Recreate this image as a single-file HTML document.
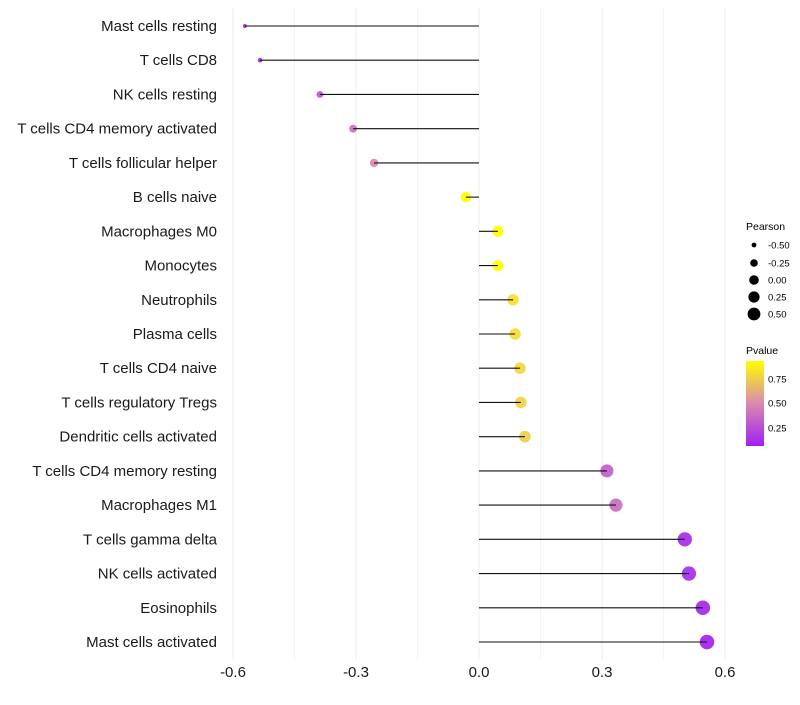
<!DOCTYPE html>
<html><head><meta charset="utf-8"><style>
body{margin:0;background:#fff;font-family:"Liberation Sans",sans-serif}
</style></head><body>
<svg id="chart" width="800" height="700" xmlns="http://www.w3.org/2000/svg" font-family="Liberation Sans, sans-serif">
<defs><linearGradient id="pg" x1="0" y1="1" x2="0" y2="0">
<stop offset="0" stop-color="#a020f0"/><stop offset="0.5" stop-color="#d98ab0"/><stop offset="1" stop-color="#ffff00"/></linearGradient></defs>
<g id="grid"></g>
<g id="dots"></g>
<g id="marks"></g>
<g id="ylab"></g>
<g id="xlab"></g>
<g font-size="9.5">
<text x="746" y="230" font-size="10.5">Pearson</text>
<circle cx="754" cy="245" r="2.4"/><text x="768" y="248.5">-0.50</text>
<circle cx="754" cy="263" r="3.8"/><text x="768" y="266.5">-0.25</text>
<circle cx="754" cy="280" r="4.8"/><text x="768" y="283.5">0.00</text>
<circle cx="754" cy="297" r="5.6"/><text x="768" y="300.5">0.25</text>
<circle cx="754" cy="314" r="6.4"/><text x="768" y="317.5">0.50</text>
</g>
<g font-size="9.5">
<text x="746" y="354" font-size="10.5">Pvalue</text>
<rect x="746" y="361" width="18" height="85" fill="url(#pg)"/>
<text x="768" y="382.5">0.75</text><text x="768" y="406.5">0.50</text><text x="768" y="431.5">0.25</text>
</g>
</svg>
<script>
const cells=["Mast cells resting","T cells CD8","NK cells resting","T cells CD4 memory activated","T cells follicular helper","B cells naive","Macrophages M0","Monocytes","Neutrophils","Plasma cells","T cells CD4 naive","T cells regulatory  Tregs ","Dendritic cells activated","T cells CD4 memory resting","Macrophages M1","T cells gamma delta","NK cells activated","Eosinophils","Mast cells activated"];
const pearson=[-0.571,-0.534,-0.388,-0.307,-0.256,-0.032,0.046,0.046,0.083,0.088,0.100,0.102,0.112,0.312,0.334,0.502,0.512,0.546,0.556];
const pvalue=[0.08,0.1,0.3,0.4,0.5,0.95,0.93,0.93,0.82,0.8,0.78,0.76,0.75,0.32,0.38,0.12,0.12,0.1,0.08];
const xTicks=[-0.6,-0.3,0.0,0.3,0.6];
const xTickLabels=["-0.6","-0.3","0.0","0.3","0.6"];
const NS="http://www.w3.org/2000/svg";
const X=v=>479+v*410, Y=i=>26+i*(616/18);
const pmin=0.07,pmax=0.93;
function lerp(a,b,t){return a.map((v,k)=>Math.round(v+(b[k]-v)*t));}
function col(p){let t=Math.max(0,Math.min(1,(p-pmin)/(pmax-pmin)));const A=[160,32,240],M=[217,138,176],B=[255,255,0];
 const c=t<0.5?lerp(A,M,t*2):lerp(M,B,(t-0.5)*2);return `rgb(${c})`;}
const R=v=>Math.sqrt(2.5+44*Math.max(0,v+0.6));
function mk(t,a,p){const e=document.createElementNS(NS,t);for(const k in a)e.setAttribute(k,a[k]);p.appendChild(e);return e;}
const g=document.getElementById('grid');
xTicks.forEach(v=>{const l=mk('line',{x1:X(v),x2:X(v),y1:8,y2:660,stroke:'#ececec','stroke-width':1},g);

});
[-0.45,-0.15,0.15,0.45].forEach(v=>{const l=mk('line',{x1:X(v),x2:X(v),y1:8,y2:660,stroke:'#f4f4f4','stroke-width':1},g);

});
const m=document.getElementById('marks'),dg=document.getElementById('dots'),yl=document.getElementById('ylab'),xl=document.getElementById('xlab');
cells.forEach((c,i)=>{
 const d=mk('circle',{cx:X(pearson[i]),cy:Y(i),r:R(pearson[i]),fill:col(pvalue[i]),'fill-opacity':0.92},dg);
 
 
 const s=mk('line',{x1:X(0),x2:X(pearson[i]),y1:Y(i),y2:Y(i),stroke:'#111','stroke-width':1.1},m);
 
 
 const t=mk('text',{x:217,y:Y(i)+5,'text-anchor':'end','font-size':15,fill:'#1a1a1a'},yl);t.textContent=c;
 
 
});
xTicks.forEach((v,i)=>{const t=mk('text',{x:X(v),y:677,'text-anchor':'middle','font-size':15,fill:'#1a1a1a'},xl);t.textContent=xTickLabels[i];
 
 });
</script>
</body></html>
